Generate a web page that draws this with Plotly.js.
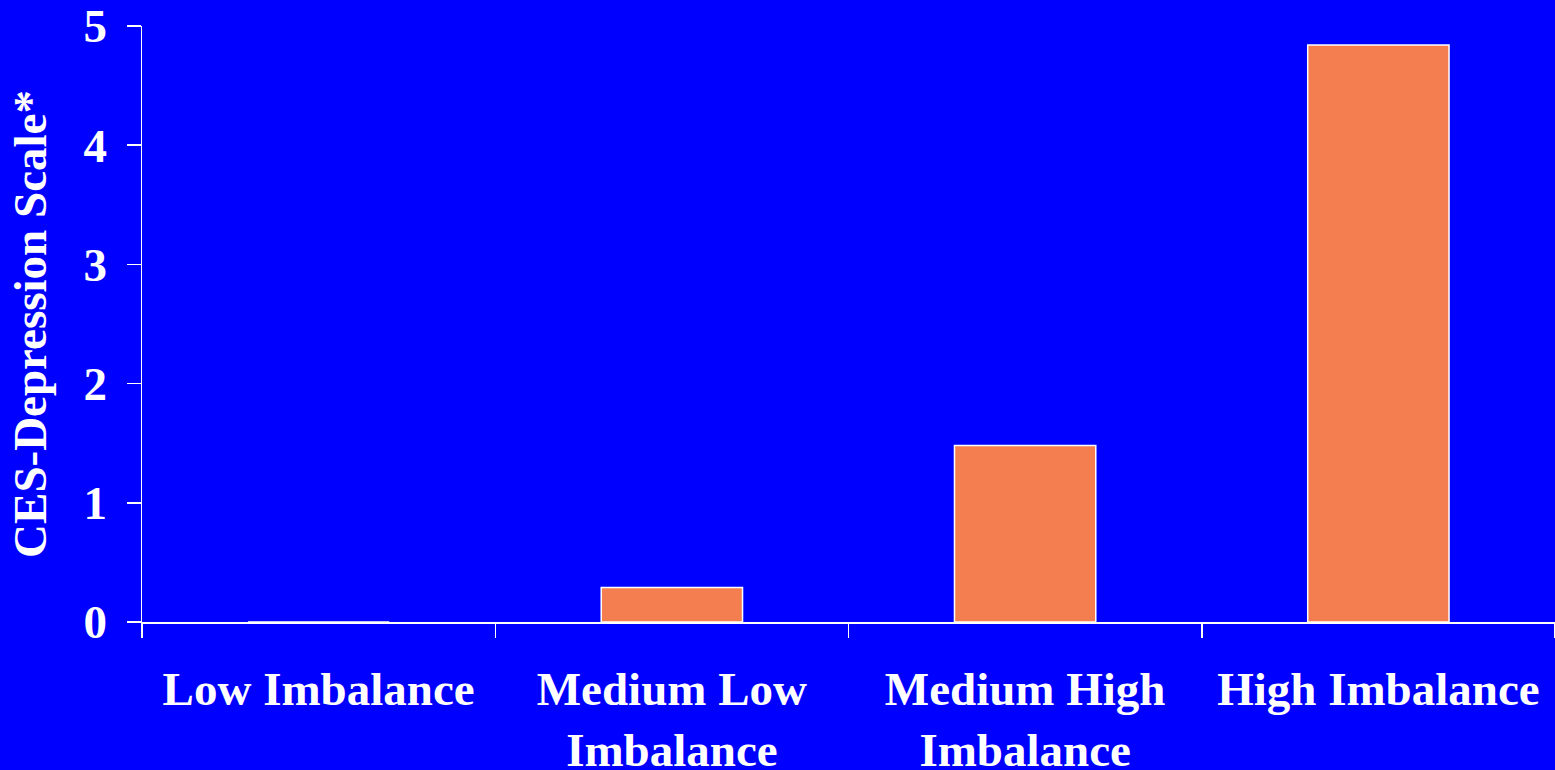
<!DOCTYPE html>
<html>
<head>
<meta charset="utf-8">
<script src="https://cdn.plot.ly/plotly-3.0.1.min.js"></script>
<style>html,body{margin:0;padding:0;background:#0000FF;}#chart{width:1555px;height:770px;}</style>
</head>
<body>
<div id="chart"></div>
<script>
const categories = ["Low Imbalance", "Medium Low<br>Imbalance", "Medium High<br>Imbalance", "High Imbalance"];
const values = [0, 0.29, 1.48, 4.84];
const yTicks = [0, 1, 2, 3, 4, 5];
const yTitle = "CES-Depression Scale*";

const font = {family: "'Liberation Serif', 'Times New Roman', serif", color: "#FFFFFF", size: 47, weight: "bold"};

const trace = {
  type: "bar",
  x: categories,
  y: values,
  width: 0.4,
  marker: {color: "#F47E4F", line: {color: "#FFFFFF", width: 1.5}},
  hoverinfo: "none"
};

const layout = {
  width: 1555,
  height: 770,
  paper_bgcolor: "#0000FF",
  plot_bgcolor: "#0000FF",
  margin: {l: 142, r: 0, t: 26, b: 148},
  showlegend: false,
  font: font,
  xaxis: {
    type: "category",
    range: [-0.5, 3.5],
    showline: true,
    linecolor: "#FFFFFF",
    linewidth: 1.5,
    ticks: "outside",
    tickson: "boundaries",
    ticklen: 14,
    tickwidth: 1.5,
    tickcolor: "#FFFFFF",
    showgrid: false,
    zeroline: false,
    tickfont: font,
    ticklabelstandoff: 25
  },
  yaxis: {
    range: [0, 5],
    tickvals: yTicks,
    ticktext: yTicks.map(String),
    showline: true,
    linecolor: "#FFFFFF",
    linewidth: 1.5,
    ticks: "outside",
    ticklen: 14,
    tickwidth: 1.5,
    tickcolor: "#FFFFFF",
    showgrid: false,
    zeroline: false,
    tickfont: font,
    ticklabelstandoff: 10,
    title: {text: yTitle, font: font, standoff: 22}
  }
};

Plotly.newPlot("chart", [trace], layout, {displayModeBar: false, staticPlot: true});
</script>
</body>
</html>
